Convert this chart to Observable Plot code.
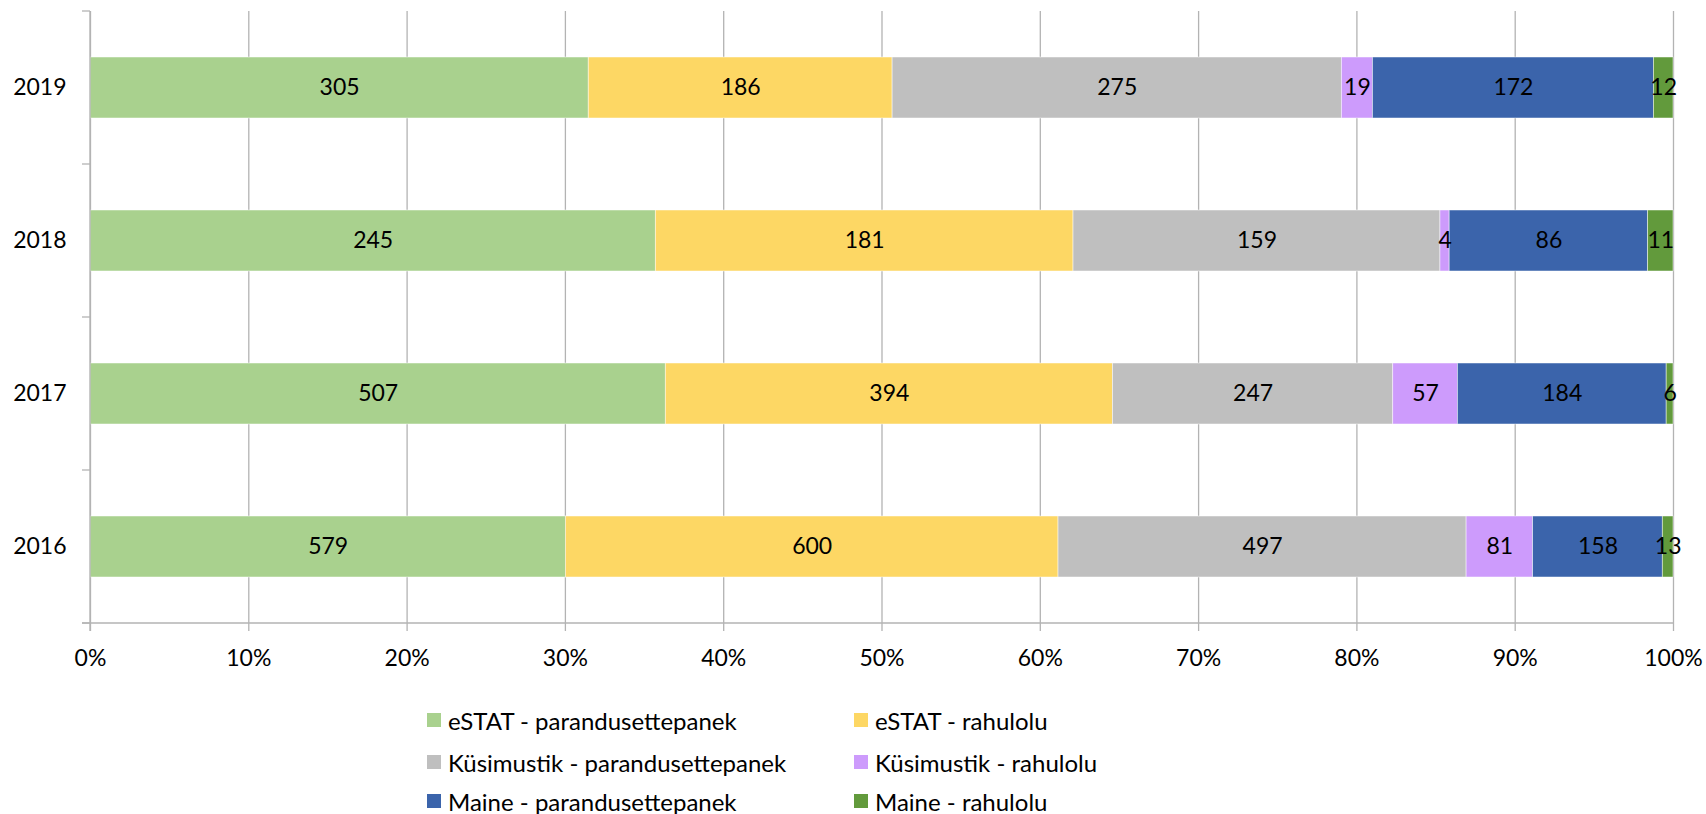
<!DOCTYPE html>
<html>
<head>
<meta charset="utf-8">
<script src="https://cdn.jsdelivr.net/npm/d3@7"></script>
<script src="https://cdn.jsdelivr.net/npm/@observablehq/plot@0.6"></script>
<style>
  html, body { margin: 0; padding: 0; background: #fff; overflow: hidden; }
  #chart { position: relative; width: 1706px; }
  #legend { position: relative; width: 1706px; height: 134px; font-family: Lato, "Liberation Sans", sans-serif; font-size: 24px; color: #000; }
  .item { position: absolute; display: flex; align-items: center; height: 30px; white-space: nowrap; }
  .sw { width: 14px; height: 14px; margin-right: 7px; flex: none; }
</style>
</head>
<body>
<div id="chart"></div>
<div id="legend"></div>
<script>
const years = ["2019", "2018", "2017", "2016"];
const seriesNames = [
  "eSTAT - parandusettepanek",
  "eSTAT - rahulolu",
  "Küsimustik - parandusettepanek",
  "Küsimustik - rahulolu",
  "Maine - parandusettepanek",
  "Maine - rahulolu"
];
const eSTATParandus = [305, 245, 507, 579];
const eSTATRahulolu = [186, 181, 394, 600];
const kysimustikParandus = [275, 159, 247, 497];
const kysimustikRahulolu = [19, 4, 57, 81];
const maineParandus = [172, 86, 184, 158];
const maineRahulolu = [12, 11, 6, 13];
const xTicks = [0, 0.1, 0.2, 0.3, 0.4, 0.5, 0.6, 0.7, 0.8, 0.9, 1];
const colors = ["#A9D18E", "#FDD764", "#BFBFBF", "#CD9BFC", "#3B64AB", "#629A3C"];

const seriesValues = [eSTATParandus, eSTATRahulolu, kysimustikParandus, kysimustikRahulolu, maineParandus, maineRahulolu];
const data = [];
seriesNames.forEach((s, i) => {
  years.forEach((y, j) => data.push({year: y, series: s, value: seriesValues[i][j]}));
});

const W = 1706, H = 680;
const mL = 90, mR = 33, mT = 11, mB = 57;
const gridColor = "#B3B3B3";

const plot = Plot.plot({
  width: W,
  height: H,
  marginLeft: mL,
  marginRight: mR,
  marginTop: mT,
  marginBottom: mB,
  style: {fontFamily: "Lato, 'Liberation Sans', sans-serif", fontSize: "23px", color: "#000", background: "#fff", overflow: "visible"},
  x: {domain: [0, 1]},
  y: {domain: years, paddingInner: 0.6, paddingOuter: 0.3},
  color: {domain: seriesNames, range: colors},
  marks: [
    Plot.gridX(xTicks, {stroke: gridColor, strokeOpacity: 1, strokeWidth: 1.3}),
    Plot.barX(data, Plot.stackX({
      x: "value", y: "year", fill: "series", offset: "normalize", order: seriesNames,
      stroke: "#fff", strokeWidth: 0.8, strokeOpacity: 0.6
    })),
    Plot.textX(data, Plot.stackX({
      x: "value", y: "year", z: "series", text: d => String(d.value), offset: "normalize", order: seriesNames,
      fill: "#000", fontSize: 23
    })),
    Plot.axisX({ticks: xTicks, tickFormat: d3.format(".0%"), tickSize: 8, tickPadding: 18, stroke: gridColor, strokeWidth: 1.3, fontSize: 23, label: null}),
    Plot.axisY({tickSize: 0, tickPadding: 24, fontSize: 23, label: null})
  ]
});

// Excel-like axis lines and category tick marks
const xs = plot.scale("x");
const svg = d3.select(plot);
const px0 = xs.apply(0), px1 = xs.apply(1);
const plotTop = mT, plotBottom = H - mB;
const step = (plotBottom - plotTop) / years.length;
const g = svg.append("g").attr("stroke", gridColor).attr("stroke-width", 1.3);
g.append("line").attr("x1", px0 - 8).attr("x2", px1).attr("y1", plotBottom).attr("y2", plotBottom);
g.append("line").attr("x1", px0).attr("x2", px0).attr("y1", plotTop).attr("y2", plotBottom + 8);
for (let k = 0; k <= years.length; k++) {
  g.append("line").attr("x1", px0 - 8).attr("x2", px0).attr("y1", plotTop + k * step).attr("y2", plotTop + k * step);
}
document.getElementById("chart").appendChild(plot);

// legend below the plot
const legend = document.getElementById("legend");
const colLeft = [427, 854];
const rowCenter = [40, 82, 121];
seriesNames.forEach((s, i) => {
  const it = document.createElement("div");
  it.className = "item";
  it.style.left = colLeft[i % 2] + "px";
  it.style.top = (rowCenter[Math.floor(i / 2)] - 15) + "px";
  const sw = document.createElement("span");
  sw.className = "sw";
  sw.style.background = colors[i];
  const tx = document.createElement("span");
  tx.textContent = s;
  it.appendChild(sw);
  it.appendChild(tx);
  legend.appendChild(it);
});
</script>
</body>
</html>
